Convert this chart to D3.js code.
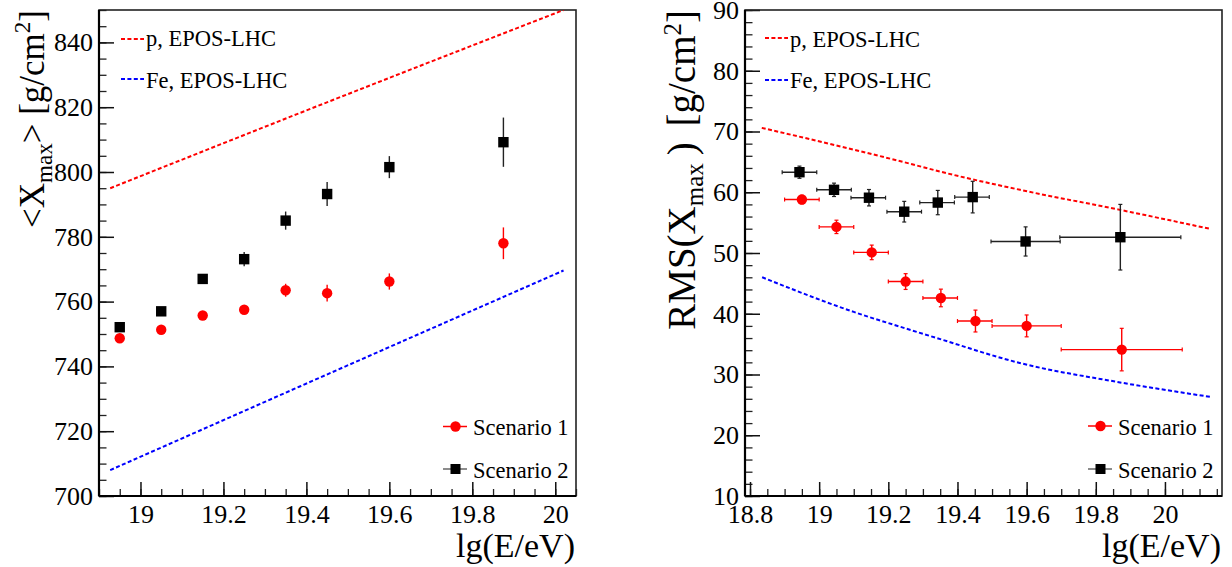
<!DOCTYPE html>
<html>
<head>
<meta charset="utf-8">
<script src="https://cdn.jsdelivr.net/npm/d3@7"></script>
<style>
  html, body { margin: 0; padding: 0; background: #fff; }
  svg { display: block; }
  text { font-family: "Liberation Serif", "Times New Roman", serif; fill: #000; }
</style>
</head>
<body>
<svg id="chart" width="1232" height="567"></svg>
<script>
// ---------------- Data ----------------
// Left panel: <Xmax> vs lg(E/eV)
const lgE_mean = [18.95, 19.05, 19.15, 19.25, 19.35, 19.45, 19.6, 19.875];
const mean_s1 = [748.7, 751.3, 755.7, 757.5, 763.5, 762.6, 766.2, 778.0];
const mean_s1_err = [1.0, 1.0, 1.2, 1.3, 2.0, 2.6, 2.5, 4.9];
const mean_s2 = [752.1, 757.0, 767.0, 773.1, 785.0, 793.2, 801.5, 809.2];
const mean_s2_err = [1.0, 1.2, 1.5, 2.2, 2.8, 3.7, 3.4, 7.6];

// EPOS-LHC predictions for <Xmax>
const eposMean_lgE = [18.927, 19.384, 20.02];
const eposMean_p = [795.0, 818.2, 850.0];
const eposMean_Fe = [708.0, 733.8, 769.6];

// Right panel: RMS(Xmax) vs lg(E/eV)
const binLo = [18.9, 19.0, 19.1, 19.2, 19.3, 19.4, 19.5, 19.7];
const binHi = [19.0, 19.1, 19.2, 19.3, 19.4, 19.5, 19.7, 20.05];
const lgE_rms_s1 = [18.95, 19.05, 19.152, 19.25, 19.352, 19.452, 19.6, 19.875];
const lgE_rms_s2 = [18.943, 19.043, 19.144, 19.246, 19.343, 19.444, 19.597, 19.871];
const rms_s1 = [58.8, 54.3, 50.1, 45.3, 42.6, 38.8, 38.0, 34.1];
const rms_s1_err = [0.7, 1.1, 1.2, 1.3, 1.45, 1.8, 1.8, 3.5];
const rms_s2 = [63.3, 60.4, 59.1, 56.8, 58.3, 59.2, 51.9, 52.6];
const rms_s2_err = [1.0, 1.1, 1.35, 1.7, 2.0, 2.6, 2.4, 5.4];

// EPOS-LHC predictions for RMS(Xmax)
const eposRms_p_lgE = [18.834, 19.266, 19.35, 19.581, 19.87, 20.133];
const eposRms_p = [70.6, 64.65, 63.4, 60.4, 57.1, 53.95];
const eposRms_Fe_lgE = [18.835, 19.1, 19.266, 19.34, 19.58, 19.87, 20.133];
const eposRms_Fe = [46.0, 40.3, 37.3, 36.0, 31.9, 28.7, 26.3];

// Tick labels
const leftXTicks = [19, 19.2, 19.4, 19.6, 19.8, 20];
const leftYTicks = [700, 720, 740, 760, 780, 800, 820, 840];
const rightXTicks = [18.8, 19, 19.2, 19.4, 19.6, 19.8, 20];
const rightYTicks = [10, 20, 30, 40, 50, 60, 70, 80, 90];

const modelLabels = ["p, EPOS-LHC", "Fe, EPOS-LHC"];
const scenarioLabels = ["Scenario 1", "Scenario 2"];

// ---------------- Drawing ----------------
const svg = d3.select("#chart");
const RED = "#ff0000", BLUE = "#0000ff", BLACK = "#000000";
const tickFont = 26, legendFont = 22.5, titleFont = 34;

function makePanel(cfg) {
  const x = d3.scaleLinear().domain(cfg.xDomain).range([cfg.x0, cfg.x1]);
  const y = d3.scaleLinear().domain(cfg.yDomain).range([cfg.y1, cfg.y0]);
  const g = svg.append("g");
  const clipId = "clip" + cfg.id;
  svg.append("clipPath").attr("id", clipId)
    .append("rect").attr("x", cfg.x0).attr("y", cfg.y0)
    .attr("width", cfg.x1 - cfg.x0).attr("height", cfg.y1 - cfg.y0);

  // minor ticks
  const xMinor = d3.range(Math.ceil(cfg.xDomain[0] / cfg.xMinorStep - 1e-6), Math.floor(cfg.xDomain[1] / cfg.xMinorStep + 1e-6) + 1)
    .map(i => +(i * cfg.xMinorStep).toFixed(4));
  const yMinor = d3.range(Math.ceil(cfg.yDomain[0] / cfg.yMinorStep), Math.floor(cfg.yDomain[1] / cfg.yMinorStep) + 1)
    .map(i => i * cfg.yMinorStep);

  g.append("g").attr("transform", `translate(0,${cfg.y1})`)
    .call(d3.axisBottom(x).tickValues(xMinor).tickSize(-7).tickFormat(""))
    .call(s => s.select(".domain").remove())
    .call(s => s.selectAll("line").attr("stroke", "#222").attr("stroke-width", 1.3));
  g.append("g").attr("transform", `translate(${cfg.x0},0)`)
    .call(d3.axisLeft(y).tickValues(yMinor).tickSize(-7.5).tickFormat(""))
    .call(s => s.select(".domain").remove())
    .call(s => s.selectAll("line").attr("stroke", "#222").attr("stroke-width", 1.3));

  // major ticks
  const xa = g.append("g").attr("transform", `translate(0,${cfg.y1})`)
    .call(d3.axisBottom(x).tickValues(cfg.xTicks).tickSize(-14).tickPadding(8.5).tickFormat(d3.format("~g")));
  xa.select(".domain").remove();
  xa.selectAll("line").attr("stroke", "#111").attr("stroke-width", 1.5);
  xa.selectAll("text").attr("font-size", tickFont).style("font-family", '"Liberation Serif", serif').attr("fill", "#000");

  const ya = g.append("g").attr("transform", `translate(${cfg.x0},0)`)
    .call(d3.axisLeft(y).tickValues(cfg.yTicks).tickSize(-15).tickPadding(6).tickFormat(d3.format("~g")));
  ya.select(".domain").remove();
  ya.selectAll("line").attr("stroke", "#111").attr("stroke-width", 1.5);
  ya.selectAll("text").attr("font-size", tickFont).style("font-family", '"Liberation Serif", serif').attr("fill", "#000");

  // frame
  g.append("rect").attr("x", cfg.x0).attr("y", cfg.y0)
    .attr("width", cfg.x1 - cfg.x0).attr("height", cfg.y1 - cfg.y0)
    .attr("fill", "none").attr("stroke", "#222").attr("stroke-width", 1.6);
  g.append("line").attr("x1", cfg.x0).attr("x2", cfg.x0).attr("y1", cfg.y0).attr("y2", cfg.y1)
    .attr("stroke", "#000").attr("stroke-width", 2.2);
  g.append("line").attr("x1", cfg.x0).attr("x2", cfg.x1).attr("y1", cfg.y1).attr("y2", cfg.y1)
    .attr("stroke", "#000").attr("stroke-width", 2.2);

  // x title
  g.append("text").attr("x", cfg.x1 - 1).attr("y", 557).attr("text-anchor", "end")
    .attr("font-size", titleFont).text("lg(E/eV)");

  return { x, y, g, clipId };
}

function modelLine(P, xs, ys, color) {
  const line = d3.line().x(d => P.x(d[0])).y(d => P.y(d[1])).curve(d3.curveMonotoneX);
  P.g.append("path").datum(xs.map((v, i) => [v, ys[i]]))
    .attr("clip-path", `url(#${P.clipId})`)
    .attr("d", line).attr("fill", "none").attr("stroke", color)
    .attr("stroke-width", 2).attr("stroke-dasharray", "4,2.4");
}

function points(P, xs, ys, errs, color, shape, lo, hi) {
  const gg = P.g.append("g");
  xs.forEach((xv, i) => {
    const cx = P.x(xv), cy = P.y(ys[i]);
    const ey0 = P.y(ys[i] - errs[i]), ey1 = P.y(ys[i] + errs[i]);
    const ecol = color === BLACK ? "#222" : RED;
    gg.append("line").attr("x1", cx).attr("x2", cx).attr("y1", ey0).attr("y2", ey1)
      .attr("stroke", ecol).attr("stroke-width", 1.4);
    if (lo) {
      const ex0 = P.x(lo[i]), ex1 = P.x(hi[i]);
      gg.append("line").attr("x1", ex0).attr("x2", ex1).attr("y1", cy).attr("y2", cy)
        .attr("stroke", ecol).attr("stroke-width", 1.4);
      [ex0, ex1].forEach(ex => gg.append("line").attr("x1", ex).attr("x2", ex)
        .attr("y1", cy - 2).attr("y2", cy + 2).attr("stroke", ecol).attr("stroke-width", 1.2));
      [ey0, ey1].forEach(ey => gg.append("line").attr("x1", cx - 2).attr("x2", cx + 2)
        .attr("y1", ey).attr("y2", ey).attr("stroke", ecol).attr("stroke-width", 1.2));
    }
    if (shape === "circle") {
      gg.append("circle").attr("cx", cx).attr("cy", cy).attr("r", 5.2).attr("fill", color);
    } else {
      gg.append("rect").attr("x", cx - 5.2).attr("y", cy - 5.2).attr("width", 10.4).attr("height", 10.4).attr("fill", color);
    }
  });
}

function legendModels(P, lx, lineYs, textYs) {
  [RED, BLUE].forEach((c, i) => {
    P.g.append("line").attr("x1", lx).attr("x2", lx + 23).attr("y1", lineYs[i]).attr("y2", lineYs[i])
      .attr("stroke", c).attr("stroke-width", 2).attr("stroke-dasharray", "4,2.4");
    P.g.append("text").attr("x", lx + 25).attr("y", textYs[i]).attr("font-size", legendFont).text(modelLabels[i]);
  });
}

function legendScenarios(P, lx, ys, textYs) {
  [["circle", RED, RED], ["square", BLACK, "#666"]].forEach((s, i) => {
    P.g.append("line").attr("x1", lx).attr("x2", lx + 24).attr("y1", ys[i]).attr("y2", ys[i])
      .attr("stroke", s[2]).attr("stroke-width", 1.5);
    const mx = lx + 12.5;
    if (s[0] === "circle") P.g.append("circle").attr("cx", mx).attr("cy", ys[i]).attr("r", 5.2).attr("fill", s[1]);
    else P.g.append("rect").attr("x", mx - 5).attr("y", ys[i] - 5).attr("width", 10).attr("height", 10).attr("fill", s[1]);
    P.g.append("text").attr("x", lx + 30).attr("y", textYs[i]).attr("font-size", legendFont).text(scenarioLabels[i]);
  });
}

// ---- Left panel ----
const L = makePanel({ id: "L", x0: 99, x1: 576, y0: 10, y1: 496,
  xDomain: [18.9, 20.05], yDomain: [700, 850], xMinorStep: 0.05, yMinorStep: 5,
  xTicks: leftXTicks, yTicks: leftYTicks });
modelLine(L, eposMean_lgE, eposMean_p, RED);
modelLine(L, eposMean_lgE, eposMean_Fe, BLUE);
points(L, lgE_mean, mean_s1, mean_s1_err, RED, "circle");
points(L, lgE_mean, mean_s2, mean_s2_err, BLACK, "square");
legendModels(L, 121, [39, 79], [46, 88]);
legendScenarios(L, 443, [426.5, 469], [435, 478]);

// Left y title
const ytL = svg.append("text").attr("transform", "translate(44,10) rotate(-90)")
  .attr("text-anchor", "end").attr("font-size", 35);
ytL.append("tspan").text("<X");
ytL.append("tspan").attr("font-size", 23).attr("dy", 8).text("max");
ytL.append("tspan").attr("dy", -8).text("> [g/cm");
ytL.append("tspan").attr("font-size", 23).attr("dy", -14).text("2");
ytL.append("tspan").attr("dy", 14).text("]");

// ---- Right panel ----
const R = makePanel({ id: "R", x0: 745, x1: 1222, y0: 10, y1: 496,
  xDomain: [18.7855, 20.165], yDomain: [10, 90], xMinorStep: 0.05, yMinorStep: 2,
  xTicks: rightXTicks, yTicks: rightYTicks });
modelLine(R, eposRms_p_lgE, eposRms_p, RED);
modelLine(R, eposRms_Fe_lgE, eposRms_Fe, BLUE);
points(R, lgE_rms_s1, rms_s1, rms_s1_err, RED, "circle", binLo, binHi);
points(R, lgE_rms_s2, rms_s2, rms_s2_err, BLACK, "square",
  binLo.map((v, i) => v + lgE_rms_s2[i] - lgE_rms_s1[i]), binHi.map((v, i) => v + lgE_rms_s2[i] - lgE_rms_s1[i]));
legendModels(R, 765, [38, 80], [47, 88]);
legendScenarios(R, 1088, [426, 469], [435, 478]);

const ytR = svg.append("text").attr("transform", "translate(695,10) rotate(-90)")
  .attr("text-anchor", "end").attr("font-size", 39);
ytR.append("tspan").text("RMS(X");
ytR.append("tspan").attr("font-size", 25).attr("dy", 8).text("max");
ytR.append("tspan").attr("dy", -8).attr("dx", 8).text(")");
ytR.append("tspan").attr("dx", 6).text(" [g/cm");
ytR.append("tspan").attr("font-size", 25).attr("dy", -14).text("2");
ytR.append("tspan").attr("dy", 14).text("]");
</script>
</body>
</html>
